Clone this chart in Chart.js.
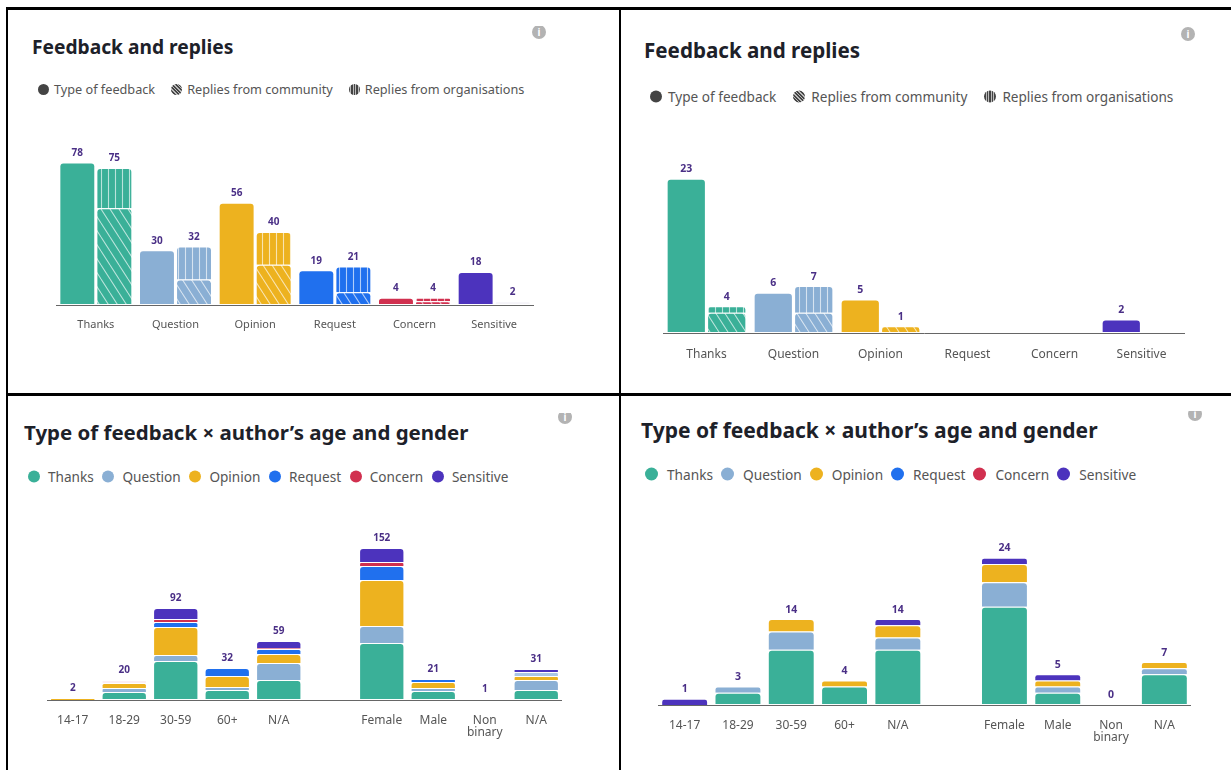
<!DOCTYPE html>
<html>
<head>
<meta charset="utf-8">
<script src="https://cdn.jsdelivr.net/npm/chart.js@4"></script>
<style>
  html, body { margin: 0; padding: 0; background: #fff; overflow: hidden; }
  body { width: 1231px; height: 770px; position: relative; font-family: "Noto Sans", sans-serif; }
  canvas { position: absolute; }
  .rule { position: absolute; background: #000; }
  .title { position: absolute; font-weight: 700; color: #1d2129; white-space: nowrap; transform: translateY(-50%); }
  .legend { position: absolute; display: flex; align-items: center; color: #555; white-space: nowrap; transform: translateY(-50%); }
  .legend span.item { display: flex; align-items: center; }
  .dot { display: inline-block; border-radius: 50%; }
  .dot.solid { background: #444; }
  .dot.diag { background: repeating-linear-gradient(45deg, #444 0 1.5px, #bbb 1.5px 2.5px); }
  .dot.vert { background: repeating-linear-gradient(90deg, #444 0 1.5px, #bbb 1.5px 2.5px); }
  .clip { position: absolute; overflow: hidden; }
  .info { position: absolute; width: 14px; height: 14px; border-radius: 50%; background: #b3b3b3; color: #fff; font: bold 10px/14px "Noto Sans", sans-serif; text-align: center; }
</style>
</head>
<body>
<div class="rule" style="left:6px;top:7px;width:2px;height:763px"></div>
<div class="rule" style="left:6px;top:7px;width:1225px;height:3px"></div>
<div class="rule" style="left:619px;top:7px;width:2px;height:763px"></div>
<div class="rule" style="left:6px;top:393px;width:1225px;height:3px"></div>

<script>
const feedbackTypes = ["Thanks", "Question", "Opinion", "Request", "Concern", "Sensitive"];
const feedbackColors = ["#3ab098", "#8aafd4", "#edb21f", "#2070ee", "#d1304f", "#4c33bd"];
const replyLegend = ["Type of feedback", "Replies from community", "Replies from organisations"];
const ageGenderLabels = ["14-17", "18-29", "30-59", "60+", "N/A", "", "Female", "Male", ["Non", "binary"], "N/A"];

// top left
const typeLeft = [78, 30, 56, 19, 4, 18];
const communityLeft = [53, 14, 22, 7, 2, 2];
const orgLeft = [22, 18, 18, 14, 2, 0];

// top right
const typeRight = [23, 6, 5, 0, 0, 2];
const communityRight = [3, 3, 1, 0, 0, 0];
const orgRight = [1, 4, 0, 0, 0, 0];

// bottom left, one list per feedback type
const thanksLeft = [0, 8, 39, 10, 20, null, 57, 9, 1, 10];
const questionLeft = [0, 4, 6, 3, 17, null, 17, 3, 0, 10];
const opinionLeft = [2, 5, 28, 11, 9, null, 46, 6, 0, 4];
const requestLeft = [0, 0, 5, 8, 5, null, 14, 3, 0, 4];
const concernLeft = [0, 3, 3, 0, 1, null, 4, 0, 0, 0];
const sensitiveLeft = [0, 0, 11, 0, 7, null, 14, 0, 0, 3];

// bottom right
const thanksRight = [0, 2, 9, 3, 9, null, 16, 2, 0, 5];
const questionRight = [0, 1, 3, 0, 2, null, 4, 1, 0, 1];
const opinionRight = [0, 0, 2, 1, 2, null, 3, 1, 0, 1];
const requestRight = [0, 0, 0, 0, 0, null, 0, 0, 0, 0];
const concernRight = [0, 0, 0, 0, 0, null, 0, 0, 0, 0];
const sensitiveRight = [1, 0, 0, 0, 1, null, 1, 1, 0, 0];

Chart.defaults.font.family = '"Noto Sans", sans-serif';

function hatch(color, kind) {
  var c = document.createElement("canvas");
  var p = c.getContext("2d");
  c.width = kind == "vert" ? 7 : 9;
  c.height = kind == "vert" ? 7 : 14;
  p.fillStyle = color;
  p.fillRect(0, 0, c.width, c.height);
  p.strokeStyle = "rgba(255,255,255,0.65)";
  p.lineWidth = 1.1;
  p.beginPath();
  if (kind == "vert") {
    p.moveTo(3.5, 0);
    p.lineTo(3.5, 7);
  } else {
    p.moveTo(-9, 0);
    p.lineTo(0, 14);
    p.moveTo(0, 0);
    p.lineTo(9, 14);
    p.moveTo(9, 0);
    p.lineTo(18, 14);
  }
  p.stroke();
  return p.createPattern(c, "repeat");
}

// total above each stack, read through the chart's own scales
const totalsPlugin = {
  id: "totals",
  afterDatasetsDraw(chart, args, opts) {
    var ctx = chart.ctx;
    var y = chart.scales.y;
    var seen = {};
    ctx.save();
    ctx.font = "bold " + opts.size + 'px "Noto Sans", sans-serif';
    ctx.fillStyle = "#4a2f86";
    ctx.textAlign = "center";
    ctx.textBaseline = "middle";
    chart.data.datasets.forEach(function (ds, i) {
      if (seen[ds.stack]) return;
      seen[ds.stack] = true;
      chart.data.labels.forEach(function (label, idx) {
        if (ds.data[idx] === null || label === "") return;
        var total = 0;
        chart.data.datasets.forEach(function (d) {
          if (d.stack == ds.stack) total += d.data[idx] || 0;
        });
        if (total == 0 && !opts.showZero) return;
        ctx.fillText(total, chart.getDatasetMeta(i).data[idx].x, y.getPixelForValue(total) - 9.5);
      });
    });
    ctx.restore();
  }
};

function makeChart(box, labels, datasets, yMax, opts) {
  var cv = document.createElement("canvas");
  cv.width = box.w;
  cv.height = box.h;
  cv.style.left = box.x + "px";
  cv.style.top = box.y + "px";
  document.body.appendChild(cv);
  var firstOfStack = {};
  datasets.forEach(function (ds) {
    ds.borderColor = "rgba(255,255,255,0.8)";
    // only the lowest segment of a stack lightens the axis line below it
    ds.borderSkipped = firstOfStack[ds.stack] ? "bottom" : false;
    firstOfStack[ds.stack] = true;
    ds.borderRadius = { topLeft: 4, topRight: 4, bottomLeft: 0, bottomRight: 0 };
    ds.borderWidth = function (c) { return c.raw > 0 ? 1 : 0; };
    ds.barPercentage = opts.barPct;
    ds.categoryPercentage = opts.catPct;
  });
  return new Chart(cv.getContext("2d"), {
    type: "bar",
    data: { labels: labels, datasets: datasets },
    plugins: [totalsPlugin],
    options: {
      responsive: false,
      animation: false,
      layout: { padding: 0 },
      plugins: {
        legend: { display: false },
        tooltip: { enabled: false },
        totals: { size: opts.labelSize, showZero: opts.showZero }
      },
      scales: {
        x: {
          stacked: true,
          grid: { display: false },
          border: { color: "#666", width: 1 },
          ticks: {
            autoSkip: false,
            maxRotation: 0,
            padding: opts.tickPad,
            color: "#555",
            font: { size: opts.tickSize, lineHeight: 1.05 }
          },
          afterFit: function (s) { s.height = box.axis; }
        },
        y: { stacked: true, display: false, min: 0, max: yMax }
      }
    }
  });
}

function replySets(type, community, org) {
  return [
    { stack: "type", data: type, backgroundColor: feedbackColors.slice() },
    { stack: "replies", data: community, backgroundColor: feedbackColors.map(function (c) { return hatch(c, "diag"); }) },
    { stack: "replies", data: org, backgroundColor: feedbackColors.map(function (c) { return hatch(c, "vert"); }) }
  ];
}

function typeSets(lists) {
  return lists.map(function (list, i) {
    return { stack: "all", label: feedbackTypes[i], data: list, backgroundColor: list.map(function () { return feedbackColors[i]; }) };
  });
}

function addTitle(text, x, y, size) {
  var d = document.createElement("div");
  d.className = "title";
  d.textContent = text;
  d.style.cssText = "left:" + x + "px;top:" + y + "px;font-size:" + size + "px";
  document.body.appendChild(d);
}

function addLegend(names, marks, x, y, o) {
  var d = document.createElement("div");
  d.className = "legend";
  d.style.cssText = "left:" + x + "px;top:" + y + "px;font-size:" + o.size + "px;gap:" + o.gap + "px";
  names.forEach(function (n, i) {
    var item = document.createElement("span");
    item.className = "item";
    item.style.gap = o.inner + "px";
    var dot = document.createElement("span");
    dot.className = "dot " + (marks[i].kind || "");
    dot.style.width = dot.style.height = o.dot + "px";
    if (marks[i].color) dot.style.background = marks[i].color;
    var t = document.createElement("span");
    t.textContent = n;
    item.appendChild(dot);
    item.appendChild(t);
    d.appendChild(item);
  });
  document.body.appendChild(d);
}

function addInfo(cx, cy, clipTop) {
  var w = document.createElement("div");
  w.className = "clip";
  w.style.cssText = "left:" + (cx - 7) + "px;top:" + clipTop + "px;width:14px;height:" + (cy + 7 - clipTop) + "px";
  var i = document.createElement("div");
  i.className = "info";
  i.textContent = "i";
  i.style.top = (cy - 7 - clipTop) + "px";
  w.appendChild(i);
  document.body.appendChild(w);
}

var replyMarks = [{ kind: "solid" }, { kind: "diag" }, { kind: "vert" }];
var typeMarks = feedbackColors.map(function (c) { return { color: c }; });

// top left
var setsTL = replySets(typeLeft, communityLeft, orgLeft);
setsTL[1].backgroundColor[5] = "#f5f4f9"; // the washed out sensitive replies bar
addTitle("Feedback and replies", 32, 46, 19.2);
addLegend(replyLegend, replyMarks, 38, 89, { size: 12.7, gap: 16, inner: 5, dot: 11 });
addInfo(539, 32, 26);
makeChart({ x: 56, y: 125, w: 478, h: 210, axis: 30 }, feedbackTypes, setsTL, 98.5,
  { barPct: 0.97, catPct: 0.93, tickPad: 6, tickSize: 11, labelSize: 10, showZero: false });

// top right
addTitle("Feedback and replies", 644, 50, 20.6);
addLegend(replyLegend, replyMarks, 650, 96, { size: 13.6, gap: 17, inner: 6, dot: 12 });
addInfo(1188, 34, 27);
makeChart({ x: 663, y: 133, w: 522, h: 230, axis: 30 }, feedbackTypes, replySets(typeRight, communityRight, orgRight), 29.8,
  { barPct: 0.97, catPct: 0.93, tickPad: 7, tickSize: 12, labelSize: 10.5, showZero: false });

// bottom left
var setsBL = typeSets([thanksLeft, questionLeft, opinionLeft, requestLeft, concernLeft, sensitiveLeft]);
setsBL[4].backgroundColor[1] = "#fbeff3"; // washed out concern, 18-29
setsBL[3].backgroundColor[9] = "#a9c6e6"; // washed out request, N/A
addTitle("Type of feedback × author’s age and gender", 24, 432, 20.45);
addLegend(feedbackTypes, typeMarks, 28, 476, { size: 13.6, gap: 8.7, inner: 8, dot: 12 });
addInfo(565, 417, 413);
makeChart({ x: 47, y: 500, w: 515, h: 250, axis: 50 }, ageGenderLabels, setsBL, 200,
  { barPct: 0.88, catPct: 1, tickPad: 6, tickSize: 12, labelSize: 10, showZero: true });

// bottom right
addTitle("Type of feedback × author’s age and gender", 641, 430, 21);
addLegend(feedbackTypes, typeMarks, 645, 474, { size: 13.7, gap: 8, inner: 9, dot: 13 });
addInfo(1195, 414, 411);
makeChart({ x: 658, y: 505, w: 533, h: 250, axis: 50 }, ageGenderLabels,
  typeSets([thanksRight, questionRight, opinionRight, requestRight, concernRight, sensitiveRight]), 32.6,
  { barPct: 0.88, catPct: 1, tickPad: 6, tickSize: 12, labelSize: 10.5, showZero: true });
</script>
</body>
</html>
